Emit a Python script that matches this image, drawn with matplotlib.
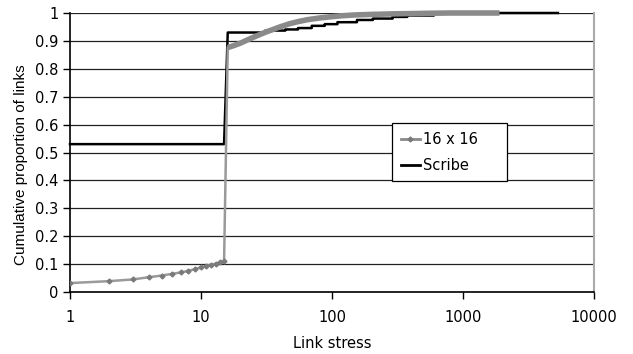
import matplotlib
matplotlib.use("Agg")
import matplotlib.pyplot as plt

plt.rcParams['font.family'] = ['DejaVu Sans']

# 16 x 16 CDF of link stress
grid_stress = [1, 2, 3, 4, 5, 6, 7, 8, 9, 10, 11, 12, 13, 14, 15,
               16, 18, 20, 23, 26, 31, 35, 40, 47, 55, 65, 80, 100, 118,
               150, 200, 300, 420, 560, 800, 1100, 1500, 1900]
grid_cdf = [0.032, 0.039, 0.045, 0.053, 0.059, 0.065, 0.070, 0.076, 0.082,
            0.088, 0.093, 0.098, 0.102, 0.106, 0.110,
            0.876, 0.884, 0.892, 0.905, 0.916, 0.931, 0.940, 0.950, 0.961,
            0.969, 0.976, 0.982, 0.987, 0.990, 0.993, 0.995, 0.997, 0.998,
            0.999, 1.0, 1.0, 1.0, 1.0]

# Scribe CDF of link stress (stepwise)
scribe_stress = [1, 15, 16, 31, 31, 44, 44, 55, 55, 70, 70, 88, 88, 110, 110,
                 155, 155, 205, 205, 290, 290, 375, 375, 600, 600, 5300]
scribe_cdf = [0.53, 0.53, 0.93, 0.93, 0.937, 0.937, 0.941, 0.941, 0.946, 0.946,
              0.954, 0.954, 0.960, 0.960, 0.967, 0.967, 0.975, 0.975, 0.980,
              0.980, 0.986, 0.986, 0.991, 0.991, 1.0, 1.0]

fig = plt.figure(figsize=(6.33, 3.54), dpi=100)
ax = fig.add_axes([0.1106, 0.1751, 0.8278, 0.7882])

# low-stress part with individual markers, dense tail drawn as a thick band
n_low = 16
ax.plot(grid_stress[:n_low], grid_cdf[:n_low], color='#9a9a9a', lw=1.8,
        marker='D', markersize=2.5, markevery=list(range(n_low - 1)),
        markerfacecolor='#7a7a7a', markeredgecolor='#7a7a7a', zorder=3)
ax.plot(grid_stress[n_low - 1:], grid_cdf[n_low - 1:], color='#8a8a8a', lw=4,
        solid_capstyle='butt', zorder=3, clip_on=False)
ax.plot(scribe_stress, scribe_cdf, color='black', lw=1.8, zorder=2,
        clip_on=False)

# legend proxies
ax.plot([], [], color='#8a8a8a', lw=2, marker='D', markersize=2.5,
        markerfacecolor='#7a7a7a', markeredgecolor='#7a7a7a', label='16 x 16')
ax.plot([], [], color='black', lw=2, label='Scribe')

ax.set_xscale('log')
ax.set_xlim(1, 10000)
ax.set_ylim(0, 1)
ax.set_xticks([1, 10, 100, 1000, 10000])
ax.set_xticklabels(['1', '10', '100', '1000', '10000'])
ax.minorticks_off()
ax.set_yticks([i / 10 for i in range(11)])
ax.set_yticklabels(['0', '0.1', '0.2', '0.3', '0.4', '0.5', '0.6', '0.7',
                    '0.8', '0.9', '1'])

ax.yaxis.grid(True, color='#222222', lw=0.9)
ax.set_axisbelow(True)
ax.tick_params(axis='both', direction='out', length=5, width=1,
               labelsize=10.5, color='black')
ax.tick_params(axis='x', pad=8)

for side in ['left', 'bottom']:
    ax.spines[side].set_color('black')
    ax.spines[side].set_linewidth(1.2)
ax.spines['right'].set_color('#aaaaaa')
ax.spines['right'].set_linewidth(1.5)
ax.spines['top'].set_visible(False)

ax.set_xlabel('Link stress', fontsize=10.5, labelpad=8)
ax.set_ylabel('Cumulative proportion of links', fontsize=11,
              family='Liberation Sans')
ax.yaxis.set_label_coords(-0.080, 0.455)

leg = ax.legend(loc='upper left', bbox_to_anchor=(0.6145, 0.3835, 0.2195, 0.2222),
                mode='expand', fontsize=10.5, frameon=True, fancybox=False,
                handlelength=1.3, handletextpad=0.2, borderpad=0.6,
                labelspacing=0.75, borderaxespad=0)
leg.get_frame().set_edgecolor('black')
leg.get_frame().set_linewidth(0.9)
leg.get_frame().set_alpha(1)

fig.savefig('out.png', dpi=100)
